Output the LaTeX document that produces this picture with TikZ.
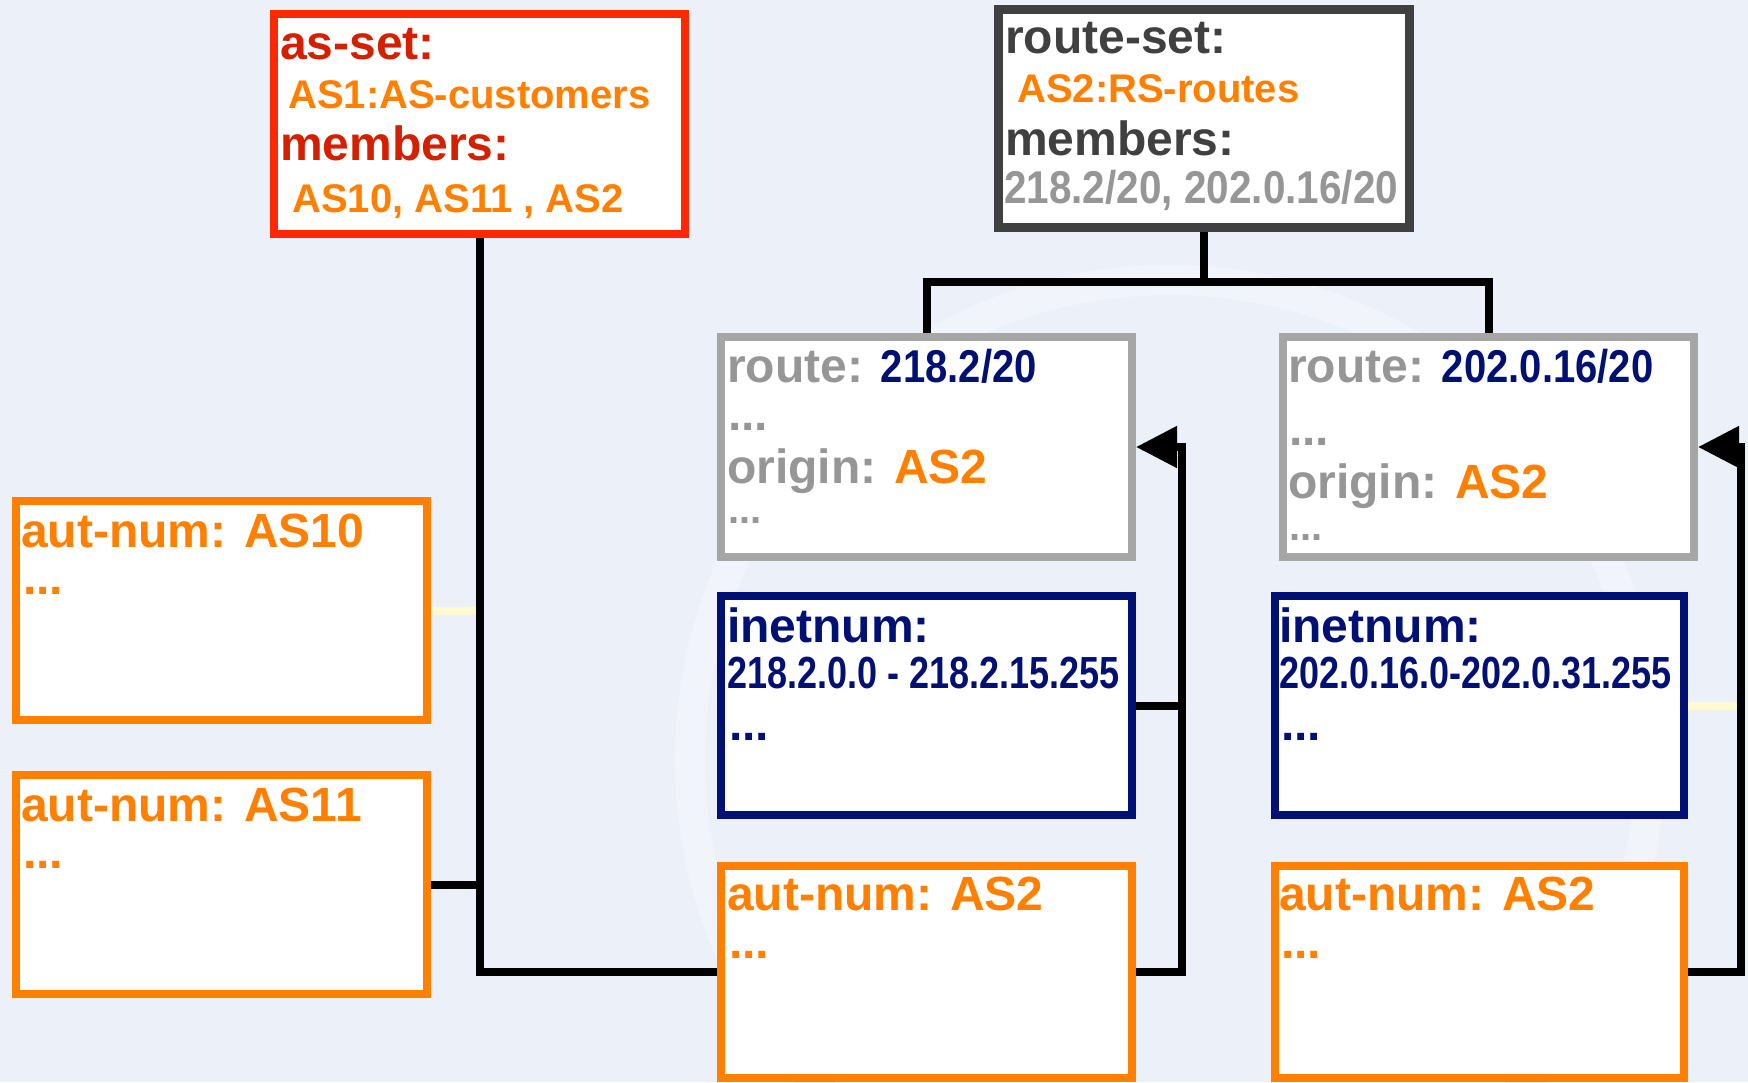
\documentclass[tikz,border=0pt]{standalone}
\usepackage{fontspec}
\setmainfont{Liberation Sans}
\newfontfamily\narR{Liberation Sans}[FakeStretch=0.87]
\newfontfamily\narM{Liberation Sans}[FakeStretch=0.88]
\newfontfamily\narI{Liberation Sans}[FakeStretch=0.80]
\usetikzlibrary{arrows.meta}
\definecolor{bg}{RGB}{236,241,249}
\definecolor{wmring}{RGB}{241,245,251}
\definecolor{asred}{RGB}{255,40,0}
\definecolor{asredtext}{RGB}{212,32,0}
\definecolor{orng}{RGB}{255,128,0}
\definecolor{navy}{RGB}{0,16,115}
\definecolor{dgray}{RGB}{64,64,64}
\definecolor{gtext}{RGB}{150,150,150}
\definecolor{gborder}{RGB}{166,166,166}
\definecolor{pale}{RGB}{255,250,208}
\tikzset{
  box/.style={draw, fill=white, line width=8pt, inner sep=0pt},
  lab/.style={font=\fontsize{48}{48}\selectfont\bfseries, inner sep=0pt, anchor=base west},
  val/.style={font=\fontsize{40}{40}\selectfont\bfseries, inner sep=0pt, anchor=base west, text=orng},
  smalldots/.style={font=\fontsize{40}{40}\selectfont\bfseries, inner sep=0pt, anchor=base west},
  conn/.style={line width=8pt, draw=black},
  paleconn/.style={line width=8pt, draw=pale},
  arr/.style={conn, -{Triangle[length=41pt,width=40pt]}}
}
\begin{document}
\begin{tikzpicture}[x=1pt,y=-1pt]
\fill[bg] (0,0) rectangle (1748,1082);
\useasboundingbox (0,0) rectangle (1748,1082);
% faint watermark ring
\draw[draw=wmring, line width=30pt] (1170,760) circle[radius=480pt];

% boxes
\node[box, draw=asred, minimum width=411pt, minimum height=220pt] (asset) at (479.5,124) {};
\node[box, draw=dgray, line width=9pt, minimum width=411pt, minimum height=218pt] (rset) at (1204,118.5) {};
\node[box, draw=gborder, minimum width=411pt, minimum height=220pt] (r1) at (926.5,447) {};
\node[box, draw=gborder, minimum width=411pt, minimum height=220pt] (r2) at (1488.5,447) {};
\node[box, draw=navy, minimum width=411pt, minimum height=219pt] (in1) at (926.5,705.5) {};
\node[box, draw=navy, minimum width=409pt, minimum height=219pt] (in2) at (1479.5,705.5) {};
\node[box, draw=orng, minimum width=411pt, minimum height=212pt] (an2a) at (926.5,972) {};
\node[box, draw=orng, minimum width=409pt, minimum height=212pt] (an2b) at (1479.5,972) {};
\node[box, draw=orng, minimum width=411pt, minimum height=219pt] (an10) at (221.5,610.5) {};
\node[box, draw=orng, minimum width=411pt, minimum height=219pt] (an11) at (221.5,884.5) {};

% connectors
\coordinate (rsj) at (1204,282);
\draw[conn] (rset.south) -- (rsj);
\draw[conn] (r1.north) |- (rsj) -| (r2.north);
\draw[conn] (asset.south) |- (an2a.west);
\draw[conn] (an11.east) -- (an11.east -| asset.south);
\draw[paleconn] (an10.east) -- ([xshift=-4pt]an10.east -| asset.south);
\coordinate (v1) at (1182,0);
\coordinate (v2) at (1741,0);
\draw[conn] (in1.east) -- (in1.east -| v1);
\draw[paleconn] (in2.east) -- ([xshift=-4pt]in2.east -| v2);
\draw[arr] (an2a.east) -- (an2a.east -| v1) -- (v1 |- r1.east) -- (r1.east);
\draw[arr] (an2b.east) -- (an2b.east -| v2) -- (v2 |- r2.east) -- (r2.east);

% as-set text
\node[lab, text=asredtext] (asl1) at (280,59) {as-set:};
\node[val] (asv1) at (288,108) {AS1:AS-customers};
\node[lab, text=asredtext] (asl2) at (280,160) {members:};
\node[val] (asv2) at (292,212) {AS10, AS11 , AS2};

% route-set text
\node[lab, text=dgray] (rsl1) at (1005,53) {route-set:};
\node[val] (rsv1) at (1017,102) {AS2:RS-routes};
\node[lab, text=dgray] (rsl2) at (1005,155) {members:};
\node[lab, text=gtext, font=\fontsize{46}{46}\selectfont\bfseries\narM] (rsv2) at (1004,203) {218.2/20, 202.0.16/20};

% route 1
\node[lab, text=gtext] (r1t1) at (727,382) {route: \textcolor{navy}{\narR\fontsize{46}{46}\selectfont 218.2/20}};
\node[lab, text=gtext] (r1t2) at (728,430) {...};
\node[lab, text=gtext] (r1t3) at (727,483) {origin: \textcolor{orng}{AS2}};
\node[smalldots, text=gtext] (r1t4) at (728,523) {...};

% route 2
\node[lab, text=gtext] (r2t1) at (1288,382) {route: \textcolor{navy}{\narR\fontsize{46}{46}\selectfont 202.0.16/20}};
\node[lab, text=gtext] (r2t2) at (1289,445) {...};
\node[lab, text=gtext] (r2t3) at (1288,498) {origin: \textcolor{orng}{AS2}};
\node[smalldots, text=gtext] (r2t4) at (1289,540) {...};

% inetnum 1
\node[lab, text=navy] (i1t1) at (727,642) {inetnum:};
\node[lab, text=navy, font=\fontsize{45}{45}\selectfont\bfseries\narI] (i1t2) at (727,688) {218.2.0.0 - 218.2.15.255};
\node[lab, text=navy] (i1t3) at (729,740) {...};

% inetnum 2
\node[lab, text=navy] (i2t1) at (1279,642) {inetnum:};
\node[lab, text=navy, font=\fontsize{45}{45}\selectfont\bfseries\narI] (i2t2) at (1279,688) {202.0.16.0-202.0.31.255};
\node[lab, text=navy] (i2t3) at (1281,740) {...};

% aut-num AS2 (two)
\node[lab, text=orng] (a2t1) at (727,910) {aut-num: AS2};
\node[lab, text=orng] (a2t2) at (729,958) {...};
\node[lab, text=orng] (a3t1) at (1279,910) {aut-num: AS2};
\node[lab, text=orng] (a3t2) at (1281,958) {...};

% aut-num AS10 / AS11
\node[lab, text=orng] (a10t1) at (21,547) {aut-num: AS10};
\node[lab, text=orng] (a10t2) at (23,594) {...};
\node[lab, text=orng] (a11t1) at (21,821) {aut-num: AS11};
\node[lab, text=orng] (a11t2) at (23,868) {...};
\end{tikzpicture}
\end{document}
